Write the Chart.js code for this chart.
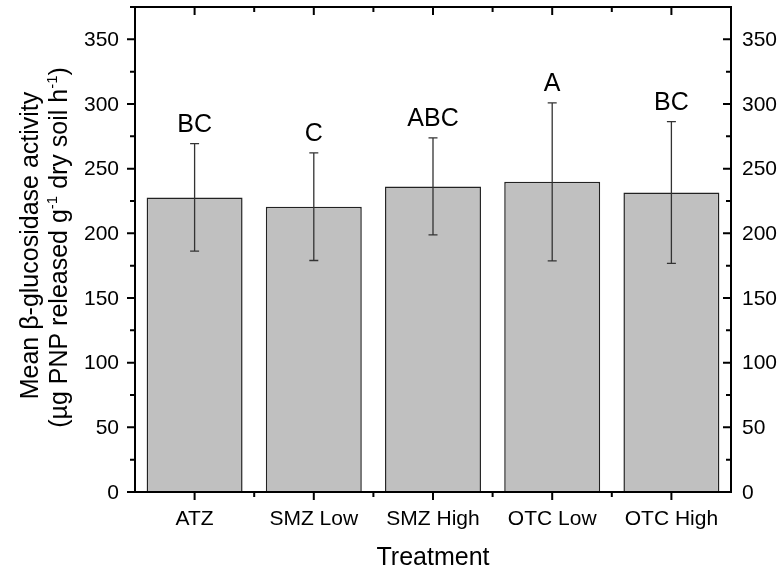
<!DOCTYPE html>
<html>
<head>
<meta charset="utf-8">
<script src="https://cdn.jsdelivr.net/npm/chart.js@4"></script>
<style>
  html, body { margin: 0; padding: 0; background: #fff; }
  #wrap { width: 783px; height: 571px; }
</style>
</head>
<body>
<div id="wrap"><canvas id="chart" width="783" height="571"></canvas></div>
<script>
// data
const treatments = ['ATZ', 'SMZ Low', 'SMZ High', 'OTC Low', 'OTC High'];
const meanActivity = [227.8, 220.6, 236.3, 239.8, 231.5];
const errActivity = [41.6, 41.6, 37.5, 61.1, 54.8];
const sigLetters = ['BC', 'C', 'ABC', 'A', 'BC'];
const yTicks = [0, 50, 100, 150, 200, 250, 300, 350];
const yMin = 0;
const yMax = 375;

const FONT = '"Liberation Sans", Arial, sans-serif';

// frame, ticks, labels, error bars, letters and axis titles
const decorPlugin = {
  id: 'decor',
  afterDraw(chart) {
    const ctx = chart.ctx;
    const area = chart.chartArea;
    const xs = chart.scales.x;
    const ys = chart.scales.y;
    ctx.save();

    // error bars
    ctx.strokeStyle = '#333';
    ctx.lineWidth = 1.3;
    meanActivity.forEach((m, i) => {
      const px = xs.getPixelForValue(i);
      const hi = ys.getPixelForValue(m + errActivity[i]);
      const lo = ys.getPixelForValue(m - errActivity[i]);
      ctx.beginPath();
      ctx.moveTo(px, hi); ctx.lineTo(px, lo);
      ctx.moveTo(px - 4.5, hi); ctx.lineTo(px + 4.5, hi);
      ctx.moveTo(px - 4.5, lo); ctx.lineTo(px + 4.5, lo);
      ctx.stroke();
    });

    // significance letters
    ctx.fillStyle = '#000';
    ctx.font = '25px ' + FONT;
    ctx.textAlign = 'center';
    ctx.textBaseline = 'alphabetic';
    sigLetters.forEach((s, i) => {
      const px = xs.getPixelForValue(i);
      const hi = ys.getPixelForValue(meanActivity[i] + errActivity[i]);
      ctx.fillText(s, px, hi - 12);
    });

    // frame
    ctx.strokeStyle = '#000';
    ctx.lineWidth = 2;
    ctx.strokeRect(area.left, area.top, area.right - area.left, area.bottom - area.top);

    // y ticks: outward on the left, inward on the right
    ctx.beginPath();
    yTicks.forEach(v => {
      const py = ys.getPixelForValue(v);
      ctx.moveTo(area.left - 8, py); ctx.lineTo(area.left, py);
      ctx.moveTo(area.right - 8, py); ctx.lineTo(area.right, py);
      const mid = v + 25;
      if (mid <= yMax) {
        const pm = ys.getPixelForValue(mid);
        ctx.moveTo(area.left - 5, pm); ctx.lineTo(area.left, pm);
        ctx.moveTo(area.right - 5, pm); ctx.lineTo(area.right, pm);
      }
    });
    // x ticks: outward at bottom, inward at top
    treatments.forEach((t, i) => {
      const px = xs.getPixelForValue(i);
      ctx.moveTo(px, area.bottom); ctx.lineTo(px, area.bottom + 8);
      ctx.moveTo(px, area.top); ctx.lineTo(px, area.top + 8);
      if (i < treatments.length - 1) {
        const pb = xs.getPixelForValue(i + 0.5);
        ctx.moveTo(pb, area.bottom); ctx.lineTo(pb, area.bottom + 5);
        ctx.moveTo(pb, area.top); ctx.lineTo(pb, area.top + 5);
      }
    });
    ctx.stroke();

    // tick labels
    ctx.font = '21px ' + FONT;
    ctx.textBaseline = 'middle';
    yTicks.forEach(v => {
      const py = ys.getPixelForValue(v) + 1;
      ctx.textAlign = 'right';
      ctx.fillText(String(v), area.left - 16, py);
      ctx.textAlign = 'left';
      ctx.fillText(String(v), area.right + 11, py);
    });
    ctx.textAlign = 'center';
    treatments.forEach((t, i) => {
      ctx.fillText(t, xs.getPixelForValue(i), area.bottom + 27);
    });

    // x title
    ctx.textBaseline = 'alphabetic';
    ctx.font = '25px ' + FONT;
    ctx.fillText('Treatment', (area.left + area.right) / 2, 565);

    // y title, two lines with superscripts
    const cy = (area.top + area.bottom) / 2 - 4;
    ctx.save();
    ctx.translate(38, cy);
    ctx.rotate(-Math.PI / 2);
    ctx.textAlign = 'center';
    ctx.font = '25px ' + FONT;
    ctx.fillText('Mean \u03b2-glucosidase activity', 0, 0);
    ctx.restore();

    const parts = [
      ['(\u00b5g PNP released g', false],
      ['-1', true],
      [' dry soil h', false],
      ['-1', true],
      [')', false]
    ];
    const setFont = sup => { ctx.font = (sup ? '15px ' : '25px ') + FONT; };
    let total = 0;
    parts.forEach(([t, sup]) => { setFont(sup); total += ctx.measureText(t).width; });
    ctx.save();
    ctx.translate(67, cy + 2);
    ctx.rotate(-Math.PI / 2);
    ctx.textAlign = 'left';
    let xp = -total / 2;
    parts.forEach(([t, sup]) => {
      setFont(sup);
      ctx.fillText(t, xp, sup ? -10 : 0);
      xp += ctx.measureText(t).width;
    });
    ctx.restore();

    ctx.restore();
  }
};

const setTicks = scale => { scale.ticks = yTicks.map(v => ({ value: v })); };

new Chart(document.getElementById('chart').getContext('2d'), {
  type: 'bar',
  data: {
    labels: treatments,
    datasets: [{
      data: meanActivity,
      backgroundColor: '#c0c0c0',
      borderColor: '#222',
      borderWidth: 1.5,
      barPercentage: 0.805,
      categoryPercentage: 1
    }]
  },
  options: {
    responsive: false,
    animation: false,
    layout: { padding: { top: 7, left: 0, right: 0, bottom: 0 } },
    plugins: { legend: { display: false }, tooltip: { enabled: false } },
    scales: {
      x: {
        grid: { display: false },
        border: { display: false },
        ticks: { display: false },
        afterFit: s => { s.height = 79; }
      },
      y: {
        position: 'left',
        min: yMin, max: yMax,
        grid: { display: false },
        border: { display: false },
        afterBuildTicks: setTicks,
        ticks: { display: false },
        afterFit: s => { s.width = 135; }
      },
      y2: {
        position: 'right',
        min: yMin, max: yMax,
        grid: { display: false },
        border: { display: false },
        afterBuildTicks: setTicks,
        ticks: { display: false },
        afterFit: s => { s.width = 52; }
      }
    }
  },
  plugins: [decorPlugin]
});
</script>
</body>
</html>
